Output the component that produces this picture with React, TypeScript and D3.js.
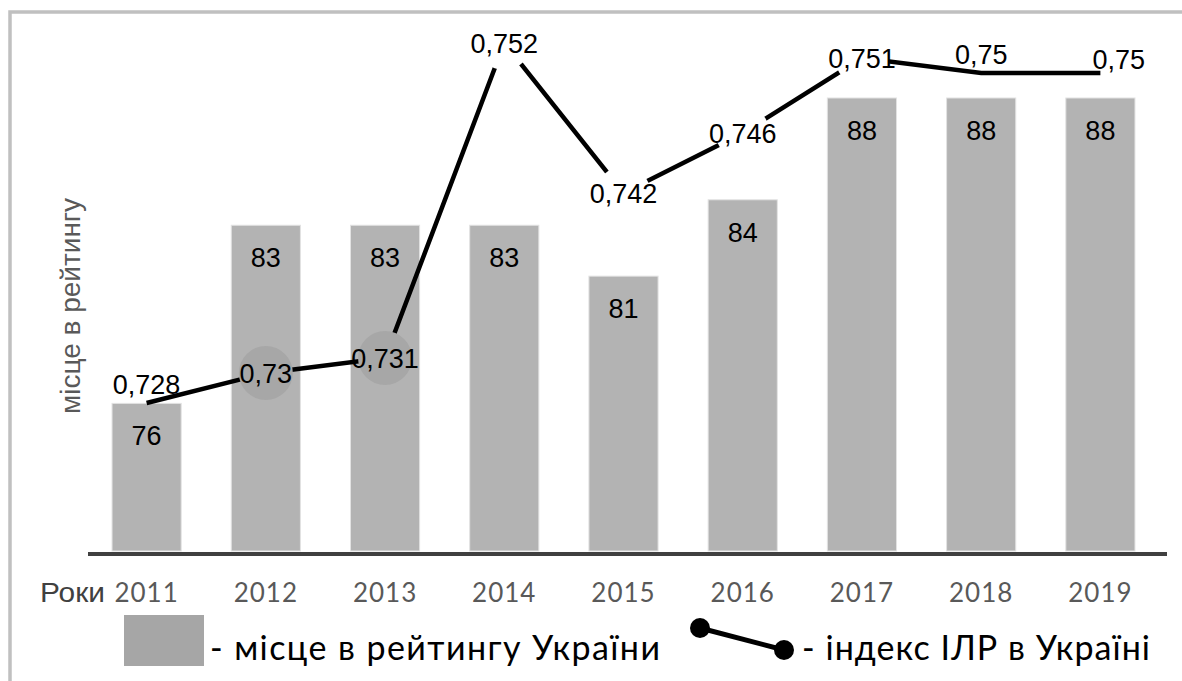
import React from 'react';
import * as d3 from 'd3';

const years = ['2011', '2012', '2013', '2014', '2015', '2016', '2017', '2018', '2019'];
const rankValues = [76, 83, 83, 83, 81, 84, 88, 88, 88];
const hdiValues = [0.728, 0.73, 0.731, 0.752, 0.742, 0.746, 0.751, 0.75, 0.75];
const hdiLabelPlacement = ['above', 'center', 'center', 'center', 'center', 'center', 'center', 'above', 'right'];
const hdiGapMarkers = [false, true, true, true, true, true, true, false, false];
const yAxisTitle = 'місце в рейтингу';
const xAxisTitle = 'Роки';
const legendBarText = '- місце в рейтингу України';
const legendLineText = '- індекс ІЛР в Україні';

const W = 1182;
const H = 681;

export default function App() {
  const x = d3.scaleBand<string>().domain(years).range([87, 1160]).paddingInner(0.42).paddingOuter(0.21);
  const yBar = d3.scaleLinear().domain([70.2, 88]).range([551, 98]);
  const yLine = d3.scaleLinear().domain([0.728, 0.752]).range([403, 43]);
  const cx = (d: string) => (x(d) as number) + x.bandwidth() / 2;

  const pts = years.map((yr, i) => ({ yr, x: cx(yr), y: yLine(hdiValues[i]), v: hdiValues[i], i }));
  const lineGen = d3.line<{ x: number; y: number }>().x(d => d.x).y(d => d.y);
  const fmt = (v: number) => String(v).replace('.', ',');

  const arial = "'Liberation Sans', Arial, sans-serif";
  const calib = "Lato, 'Open Sans', sans-serif";

  return (
    <svg width={W} height={H} style={{ position: 'absolute', left: 0, top: 0, background: '#fff' }}>
      <rect x={0} y={0} width={W} height={H} fill="#fff" />
      <rect x={10} y={12} width={W + 10} height={H + 10} fill="none" stroke="#c0c0c0" strokeWidth={3.5} />

      {/* bars */}
      {years.map((yr, i) => (
        <rect key={yr} x={x(yr)} y={yBar(rankValues[i])} width={x.bandwidth()} height={551 - yBar(rankValues[i])}
          fill="#b3b3b3" stroke="#e2e2e2" strokeWidth={1} />
      ))}

      {/* axis line */}
      <line x1={88} x2={1167} y1={554} y2={554} stroke="#404040" strokeWidth={4} />

      {/* bar labels */}
      {years.map((yr, i) => (
        <text key={'bl' + yr} x={cx(yr)} y={yBar(rankValues[i]) + 42} textAnchor="middle"
          fontFamily={arial} fontSize={27} fill="#000">{rankValues[i]}</text>
      ))}

      {/* line */}
      <path d={lineGen(pts) as string} fill="none" stroke="#000" strokeWidth={4.5} />

      {/* gap markers */}
      {pts.map(p => hdiGapMarkers[p.i] ? (
        <circle key={'m' + p.yr} cx={p.x} cy={p.y} r={27}
          fill={p.y > yBar(rankValues[p.i]) ? '#a7a7a7' : '#fff'} />
      ) : null)}

      {/* line labels */}
      {pts.map(p => {
        const pl = hdiLabelPlacement[p.i];
        let tx = p.x, ty = p.y + 10, anchor: any = 'middle';
        if (pl === 'above') { ty = p.y - 9; }
        if (pl === 'right') { tx = p.x - 8; ty = p.y - 4; anchor = 'start'; }
        return (
          <text key={'ll' + p.yr} x={tx} y={ty} textAnchor={anchor} fontFamily={arial} fontSize={27} fill="#000">{fmt(p.v)}</text>
        );
      })}

      {/* y title */}
      <text transform={`translate(80,306) rotate(-90)`} textAnchor="middle" fontFamily={arial} fontSize={28} fill="#595959">{yAxisTitle}</text>

      {/* x ticks */}
      {years.map(yr => (
        <text key={'t' + yr} x={cx(yr)} y={602} textAnchor="middle" fontFamily={calib} fontSize={26} fill="#595959" letterSpacing={1}>{yr}</text>
      ))}
      <text x={40} y={602} fontFamily={arial} fontSize={27} fill="#404040" textLength={65} lengthAdjust="spacingAndGlyphs">{xAxisTitle}</text>

      {/* legend */}
      <rect x={124} y={615} width={80} height={51} fill="#a6a6a6" />
      <text x={210} y={660} fontFamily={calib} fontSize={34} fill="#000" textLength={450} lengthAdjust="spacing">{legendBarText}</text>
      <line x1={700} y1={628} x2={784} y2={650} stroke="#000" strokeWidth={5} />
      <circle cx={700} cy={628} r={10} fill="#000" />
      <circle cx={784} cy={650} r={10} fill="#000" />
      <text x={802} y={660} fontFamily={calib} fontSize={34} fill="#000" textLength={348} lengthAdjust="spacing">{legendLineText}</text>
    </svg>
  );
}
